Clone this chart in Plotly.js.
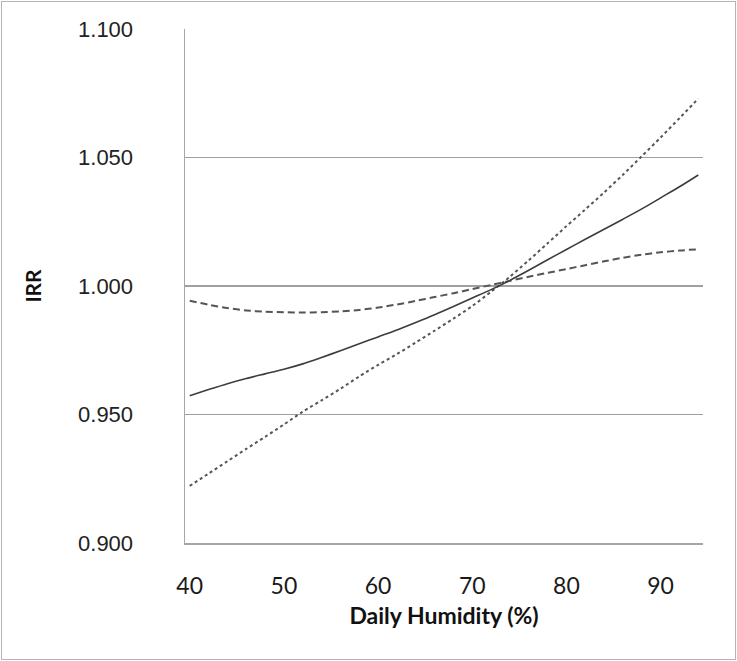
<!DOCTYPE html>
<html>
<head>
<meta charset="utf-8">
<script src="https://cdn.plot.ly/plotly-3.0.1.min.js"></script>
<style>
  html, body { margin: 0; padding: 0; background: #fff; }
  #wrap { position: relative; width: 737px; height: 661px; }
  #chart { width: 737px; height: 661px; }
  #frame { position: absolute; left: 1px; top: 1px; width: 733px; height: 657px;
           border: 1px solid #b4b4b4; pointer-events: none; }
</style>
</head>
<body>
<div id="wrap"><div id="chart"></div><div id="frame"></div></div>
<script>
// Daily humidity (%)
const humidity = [40, 42, 44, 46, 48, 50, 52, 54, 56, 58, 60, 62, 64, 66,
                  68, 70, 72, 74, 76, 78, 80, 82, 84, 86, 88, 90, 92, 94];
// IRR point estimate
const irr = [0.9573, 0.9597, 0.9620, 0.9640, 0.9658, 0.9676, 0.9697, 0.9722, 0.9748, 0.9775,
             0.9802, 0.9829, 0.9858, 0.9888, 0.9920, 0.9953, 0.9986, 1.0022, 1.0061, 1.0102,
             1.0142, 1.0182, 1.0221, 1.0260, 1.0300, 1.0343, 1.0386, 1.0432];
// Confidence bound that starts high (flat curve)
const boundA = [0.9943, 0.9927, 0.9914, 0.9905, 0.9900, 0.9898, 0.9897, 0.9898, 0.9901, 0.9907,
                0.9916, 0.9928, 0.9942, 0.9957, 0.9972, 0.9988, 1.0004, 1.0020, 1.0036, 1.0051,
                1.0066, 1.0081, 1.0096, 1.0110, 1.0122, 1.0131, 1.0138, 1.0143];
// Confidence bound that starts low (steep curve)
const boundB = [0.9222, 0.9270, 0.9318, 0.9366, 0.9413, 0.9461, 0.9511, 0.9555, 0.9600, 0.9648,
                0.9693, 0.9735, 0.9780, 0.9826, 0.9873, 0.9922, 0.9978, 1.0036, 1.0100, 1.0166,
                1.0233, 1.0298, 1.0364, 1.0433, 1.0505, 1.0578, 1.0653, 1.0729];
const xTicks = [40, 50, 60, 70, 80, 90];
const yTicks = [0.900, 0.950, 1.000, 1.050, 1.100];

const traces = [
  { x: humidity, y: boundA, type: 'scatter', mode: 'lines', name: 'Bound A',
    line: { color: '#555555', width: 2, dash: '7px,4px', shape: 'spline', smoothing: 0.8 } },
  { x: humidity, y: boundB, type: 'scatter', mode: 'lines', name: 'Bound B',
    line: { color: '#555555', width: 2, dash: '3px,3px', shape: 'spline', smoothing: 0.8 } },
  { x: humidity, y: irr, type: 'scatter', mode: 'lines', name: 'IRR',
    line: { color: '#3c3c3c', width: 1.6, shape: 'spline', smoothing: 0.8 } }
];

const layout = {
  width: 737, height: 661,
  margin: { l: 185, r: 34, t: 29, b: 118 },
  paper_bgcolor: '#fff', plot_bgcolor: '#fff',
  showlegend: false,
  xaxis: {
    range: [39.5, 94.5],
    tickvals: xTicks, ticktext: xTicks.map(String),
    showgrid: false, zeroline: false,
    showline: true, linecolor: '#a6a6a6', linewidth: 1.5,
    ticks: '', ticklabelstandoff: 22,
    tickfont: { family: 'Lato, sans-serif', size: 23, color: '#1a1a1a' },
    title: { text: 'Daily Humidity (%)', standoff: 10,
             font: { family: 'Lato, sans-serif', size: 23, color: '#111', weight: 'bold' } }
  },
  yaxis: {
    range: [0.9, 1.1],
    tickvals: yTicks, ticktext: yTicks.map(v => v.toFixed(3)),
    showgrid: true, gridcolor: '#a0a0a0', gridwidth: 1.5,
    zeroline: false,
    showline: true, linecolor: '#a6a6a6', linewidth: 1.5,
    ticks: '', ticklabelstandoff: 46,
    tickfont: { family: '"Liberation Sans", Arial, sans-serif', size: 22, color: '#222' },
    title: { text: 'IRR', standoff: 30,
             font: { family: 'Lato, sans-serif', size: 21, color: '#111', weight: 'bold' } }
  }
};

Plotly.newPlot('chart', traces, layout, { displayModeBar: false, staticPlot: true });
</script>
</body>
</html>
